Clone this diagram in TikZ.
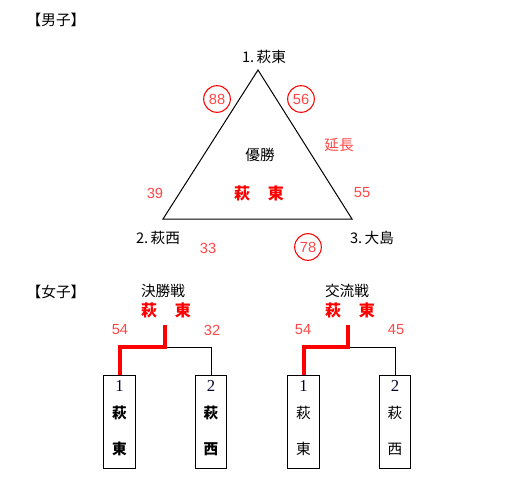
\documentclass[tikz,border=0pt]{standalone}
\usepackage{fontspec}
\setmainfont{Liberation Sans}
\newfontfamily\jp{Noto Sans CJK JP}
\newfontfamily\ser{Liberation Serif}
\definecolor{nred}{RGB}{255,70,70}
\begin{document}
\begin{tikzpicture}[x=0.75pt,y=-0.75pt,
  lbl/.style={inner sep=0pt,font=\jp\fontsize{11}{12}\selectfont},
  num/.style={inner sep=0pt,text=nred,font=\fontsize{11}{12}\selectfont},
  circ/.style={circle,draw=red,line width=0.8pt,minimum size=20pt,inner sep=0pt,text=nred,font=\fontsize{11}{12}\selectfont},
  win/.style={inner sep=0pt,text=red,font=\jp\bfseries\fontsize{12}{13}\selectfont},
  entry/.style={draw,line width=0.75pt,minimum width=23.5pt,minimum height=70pt,inner sep=0pt,anchor=north},
  thick red/.style={red,line width=3pt},
  thin/.style={black,line width=0.75pt}]
\useasboundingbox (0,0) rectangle (517,496);
% men
\node[lbl] (mt) at (56,20) {【男子】};
\coordinate (A) at (258,70);
\coordinate (B) at (163,219);
\coordinate (C) at (352,219);
\draw[thin] (A) -- (B) -- (C) -- cycle;
\node[lbl] (t1) at (264,57) {1.\,萩東};
\node[lbl] (t2) at (158,238) {2.\,萩西};
\node[lbl] (t3) at (372,238) {3.\,大島};
\node[circ] (c88) at (217,99) {88};
\node[circ] (c56) at (301,99) {56};
\node[circ] (c78) at (308,247) {78};
\node[lbl,text=nred] (ext) at (339,145) {延長};
\node[lbl] (yu) at (260,155) {優勝};
\node[win] (mw) at (259,193) {萩\hspace{1.1em}東};
\node[num] (n39) at (155,193) {39};
\node[num] (n55) at (362,193) {55};
\node[num] (n33) at (208,248) {33};
% women
\node[lbl] (wt) at (56,292) {【女子】};
\node[lbl] (k1) at (163,291) {決勝戦};
\node[win] (w1) at (166,310) {萩\hspace{1.1em}東};
\node[lbl] (k2) at (347,291) {交流戦};
\node[win] (w2) at (350,310) {萩\hspace{1.1em}東};
\node[num] (a54) at (120,330) {54};
\node[num] (a32) at (212,330) {32};
\node[num] (b54) at (303,330) {54};
\node[num] (b45) at (396,330) {45};
\node[entry] (e1) at (119.5,375) {};
\node[entry] (e2) at (211,375) {};
\node[entry] (e3) at (303.5,375) {};
\node[entry] (e4) at (395,375) {};
\foreach \e/\n/\a/\b/\w in {e1/1/萩/東/\bfseries, e2/2/萩/西/\bfseries, e3/1/萩/東/, e4/2/萩/西/}{
  \node[inner sep=0pt,font=\ser\fontsize{12.5}{13}\selectfont,text=black!80!blue] (\e n) at ([yshift=-8.5pt]\e.north) {\n};
  \node[lbl,font=\jp\w\fontsize{11}{12}\selectfont] (\e a) at ([yshift=-28.5pt]\e.north) {\a};
  \node[lbl,font=\jp\w\fontsize{11}{12}\selectfont] (\e b) at ([yshift=-55.5pt]\e.north) {\b};
}
\coordinate (j1) at (165,325);
\coordinate (j2) at (348,325);
\draw[thin] (j1 |- 0,347) -| (e2.north);
\draw[thin] (j2 |- 0,347) -| (e4.north);
\draw[thick red] (j1) |- (e1.north |- 0,347) -- (e1.north);
\draw[thick red] (j2) |- (e3.north |- 0,347) -- (e3.north);
\end{tikzpicture}
\end{document}
